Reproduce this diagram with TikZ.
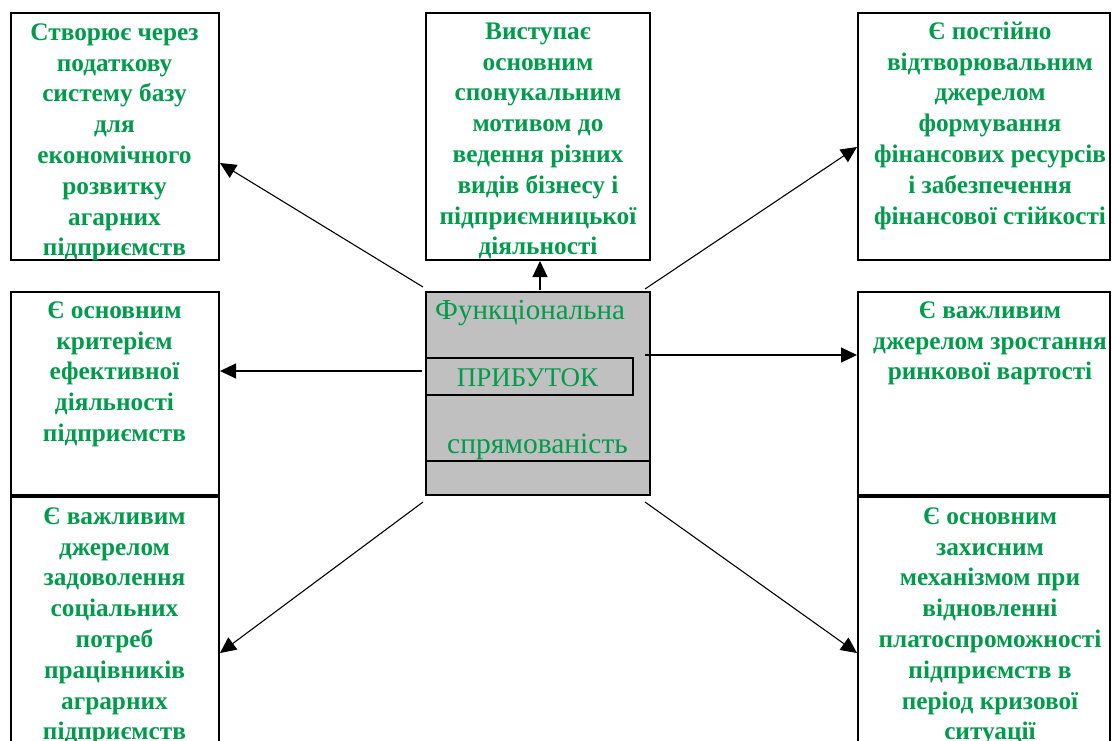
\documentclass[tikz,border=0pt]{standalone}
\usepackage{fontspec}
\setmainfont{Liberation Serif}
\usetikzlibrary{arrows.meta}
\definecolor{txtgreen}{RGB}{0,155,75}
\definecolor{boxgray}{RGB}{192,192,192}
\newcommand\fstrut{\rule{0pt}{20pt}}
\begin{document}
\begin{tikzpicture}[x=1pt,y=-1pt,
  box/.style={draw=black, line width=2pt, fill=white, rectangle, inner sep=0pt, outer sep=0pt},
  txt/.style={text=txtgreen, font=\fontsize{25.3}{30.8}\selectfont\bfseries, align=center, inner sep=0pt, anchor=north},
  ctxt/.style={text=txtgreen, font=\fontsize{27}{31.3}\selectfont, inner sep=0pt},
  arr/.style={draw=black, line width=1.1pt, -{Triangle[length=16pt,width=15pt]}}]
\useasboundingbox (0,0) rectangle (1112,740);
\clip (0,0) rectangle (1112,740);
% boxes
\node[box, minimum width=208pt, minimum height=247pt] (tl) at (115,136.5) {};
\node[box, minimum width=224pt, minimum height=247pt] (tm) at (538,136.5) {};
\node[box, minimum width=252pt, minimum height=247pt] (tr) at (984,136.5) {};
\node[box, minimum width=208pt, minimum height=203pt] (ml) at (115,393.5) {};
\node[box, minimum width=252pt, minimum height=203pt] (mr) at (984,393.5) {};
\node[box, minimum width=208pt, minimum height=273pt] (bl) at (115,633.5) {};
\node[box, minimum width=252pt, minimum height=273pt] (br) at (984,633.5) {};
\node[box, fill=boxgray, minimum width=224pt, minimum height=203pt] (c) at (538,393.5) {};
\coordinate (cl) at (426,461);
\coordinate (cr) at (650,461);
\draw[line width=1.8pt] (cl) -- (cr);
\node[draw=black, line width=1.5pt, rectangle, inner sep=0pt, minimum width=207pt, minimum height=37pt] (pr) at (529.5,376.5) {};
% arrows
\coordinate (s1) at (423,287); \coordinate (e1) at (220,163);
\coordinate (s2) at (645,289); \coordinate (e2) at (857,147);
\coordinate (s3) at (422,371); \coordinate (e3) at (220,371);
\coordinate (s4) at (645,355); \coordinate (e4) at (857,355);
\coordinate (s5) at (423,502); \coordinate (e5) at (220,653);
\coordinate (s6) at (645,502); \coordinate (e6) at (857,653);
\coordinate (s7) at (540,290); \coordinate (e7) at (540,261);
\draw[arr] (s1) -- (e1);
\draw[arr] (s2) -- (e2);
\draw[arr] (s3) -- (e3);
\draw[arr] (s4) -- (e4);
\draw[arr] (s5) -- (e5);
\draw[arr] (s6) -- (e6);
\draw[arr] (s7) -- (e7);
% texts
\node[txt] (ttl) at (114.5,20) {\fstrut Створює через\\податкову\\систему базу\\для\\економічного\\розвитку\\агарних\\підприємств};
\node[txt] (ttm) at (538,19) {\fstrut Виступає\\основним\\спонукальним\\мотивом до\\ведення різних\\видів бізнесу і\\підприємницької\\діяльності};
\node[txt] (ttr) at (990,19) {\fstrut Є постійно\\відтворювальним\\джерелом\\формування\\фінансових ресурсів\\і забезпечення\\фінансової стійкості};
\node[txt] (tml) at (114.5,298) {\fstrut Є основним\\критерієм\\ефективної\\діяльності\\підприємств};
\node[txt] (tmr) at (990,298) {\fstrut Є важливим\\джерелом зростання\\ринкової вартості};
\node[txt] (tbl) at (114.5,504) {\fstrut Є важливим\\джерелом\\задоволення\\соціальних\\потреб\\працівників\\аграрних\\підприємств};
\node[txt] (tbr) at (990,504) {\fstrut Є основним\\захисним\\механізмом при\\відновленні\\платоспроможності\\підприємств в\\період кризової\\ситуації};
\node[ctxt, font=\fontsize{29}{31.3}\selectfont, anchor=base west] (tc1) at (435,319) {Функціональна};
\node[ctxt, anchor=base] (tc2) at (527.5,386) {ПРИБУТОК};
\node[ctxt, font=\fontsize{29.5}{31.3}\selectfont, anchor=base] (tc3) at (537.5,453) {спрямованість};
\end{tikzpicture}
\end{document}
